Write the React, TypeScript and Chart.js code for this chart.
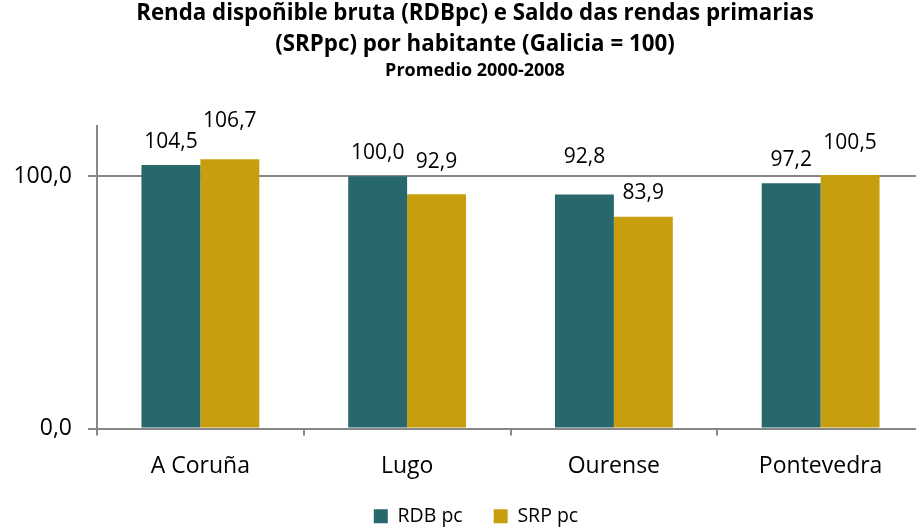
import React, { useEffect, useRef } from "react";
import { Chart, registerables } from "chart.js";

Chart.register(...registerables);

const categories = ["A Coruña", "Lugo", "Ourense", "Pontevedra"];
const rdbValues = [104.5, 100.0, 92.8, 97.2];
const srpValues = [106.7, 92.9, 83.9, 100.5];
// Height (in axis units) at which each data label is centred, as placed in the original
const rdbLabelAt = [113.5, 109.1, 107.5, 106.3];
const srpLabelAt = [121.8, 105.6, 93.3, 113.1];
const yTicks = [0, 100];

const FONT = "'Open Sans', Lato, sans-serif";
const TEAL = "#28686C";
const GOLD = "#C79F0E";
const AXIS = "#878787";

const fmt = (v: number) => v.toFixed(1).replace(".", ",");

const labelPlugin = {
  id: "valueLabels",
  afterDatasetsDraw(chart: any) {
    const { ctx } = chart;
    const y = chart.scales.y;
    const anchors = [rdbLabelAt, srpLabelAt];
    ctx.save();
    ctx.font = `21px ${FONT}`;
    ctx.fillStyle = "#000";
    ctx.textAlign = "center";
    ctx.textBaseline = "middle";
    chart.data.datasets.forEach((ds: any, di: number) => {
      const meta = chart.getDatasetMeta(di);
      meta.data.forEach((bar: any, i: number) => {
        ctx.fillText(fmt(ds.data[i]), bar.x, y.getPixelForValue(anchors[di][i]));
      });
    });
    ctx.restore();
  },
};

// Nudges the title, subtitle and legend blocks to the places they have in the original
const placePlugin = {
  id: "placeBlocks",
  afterLayout(chart: any) {
    chart.boxes.forEach((b: any) => {
      if (b.axis) return;
      if (b === chart.legend) {
        const pad = b.options.labels.padding;
        const ih = b._itemHeight || 23;
        const h = b.height;
        b.left += 14;
        b.right += 14;
        b.top = 518 - pad - ih / 2;
        b.bottom = b.top + h;
      } else if (b.options && b.options.display) {
        b.left += 13;
        b.right += 13;
        if (b.options.text && Array.isArray(b.options.text)) {
          b.top -= 1;
        }
      }
    });
    if (chart.scales.x) chart.scales.x.bottom = chart.height;
  },
};

export default function App() {
  const ref = useRef<HTMLCanvasElement>(null);
  useEffect(() => {
    if (!ref.current) return;
    const chart = new Chart(ref.current, {
      type: "bar",
      data: {
        labels: categories,
        datasets: [
          { label: "RDB pc", data: rdbValues, backgroundColor: TEAL },
          { label: "SRP pc", data: srpValues, backgroundColor: GOLD },
        ],
      },
      options: {
        animation: false,
        responsive: false,
        maintainAspectRatio: false,
        layout: { padding: { left: 0, right: 0, top: 0, bottom: 0 } },
        datasets: { bar: { categoryPercentage: 0.57, barPercentage: 1.0 } },
        scales: {
          x: {
            grid: {
              display: true,
              offset: true,
              drawOnChartArea: false,
              drawTicks: true,
              tickLength: 7,
              color: AXIS,
              lineWidth: 2,
            },
            border: { display: true, color: AXIS, width: 2 },
            ticks: { color: "#000", font: { family: FONT, size: 23 }, padding: 17 },
            afterFit: (s: any) => { s.height = 43; },
          },
          y: {
            min: 0,
            max: 120,
            afterBuildTicks: (s: any) => { s.ticks = yTicks.map((v) => ({ value: v })); },
            grid: { color: AXIS, lineWidth: 2, tickLength: 9, drawTicks: true },
            border: { display: true, color: AXIS, width: 2 },
            ticks: {
              color: "#000",
              font: { family: FONT, size: 23 },
              padding: 16,
              callback: (v: any) => fmt(Number(v)),
            },
            afterFit: (s: any) => { s.width = 97; },
          },
        },
        plugins: {
          title: {
            display: true,
            text: [
              "Renda dispoñible bruta (RDBpc) e Saldo das rendas primarias",
              "(SRPpc) por habitante (Galicia = 100)",
            ],
            color: "#000",
            font: { family: FONT, size: 22.3, weight: "bold", lineHeight: 1.35 },
            padding: { top: 0, bottom: 0 },
          },
          subtitle: {
            display: true,
            text: "Promedio 2000-2008",
            color: "#000",
            font: { family: FONT, size: 18, weight: "bold", lineHeight: 1.2 },
            padding: { top: 0, bottom: 44 },
          },
          legend: {
            position: "bottom",
            labels: {
              color: "#000",
              font: { family: FONT, size: 19.5 },
              boxWidth: 14,
              boxHeight: 14,
              padding: 31,
            },
          },
          tooltip: { enabled: false },
        },
      },
      plugins: [labelPlugin, placePlugin],
    });
    return () => chart.destroy();
  }, []);

  return (
    <div
      style={{
        position: "fixed",
        left: 0,
        top: 0,
        width: 916,
        height: 532,
        overflow: "hidden",
        background: "#fff",
      }}
    >
      <canvas ref={ref} width={924} height={532} style={{ display: "block" }} />
    </div>
  );
}
